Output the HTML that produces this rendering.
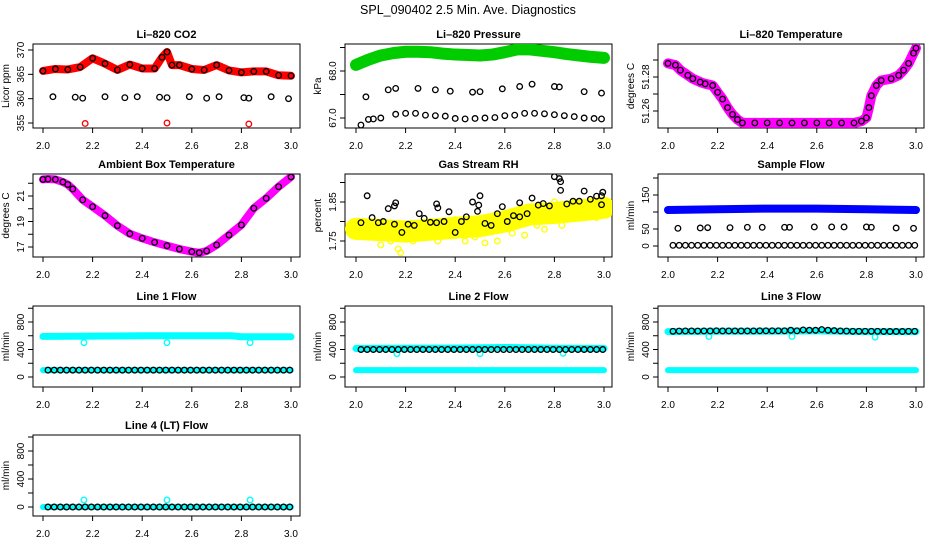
<!DOCTYPE html>
<html><head><meta charset="utf-8"><style>
html,body{margin:0;padding:0;background:#fff;}
svg{display:block;font-family:"Liberation Sans",Arial,sans-serif;}
</style></head><body>
<svg id="c" width="936" height="540" viewBox="0 0 936 540" xmlns="http://www.w3.org/2000/svg">
<rect width="936" height="540" fill="#fff"/>
<text x="468" y="14" text-anchor="middle" font-size="12.5">SPL_090402  2.5 Min. Ave. Diagnostics</text>
</svg>
<script>
// ---- shared data ----
const xTicks=[2.0,2.2,2.4,2.6,2.8,3.0];
const xTickLabels=["2.0","2.2","2.4","2.6","2.8","3.0"];
const gridX=[2.02,2.045,2.07,2.095,2.12,2.145,2.17,2.195,2.22,2.245,2.27,2.295,2.32,2.345,2.37,2.395,2.42,2.445,2.47,2.495,2.52,2.545,2.57,2.595,2.62,2.645,2.67,2.695,2.72,2.745,2.77,2.795,2.82,2.845,2.87,2.895,2.92,2.945,2.97,2.995];
// CO2
const co2X=[2.0,2.05,2.1,2.15,2.2,2.25,2.3,2.35,2.4,2.45,2.48,2.5,2.52,2.55,2.6,2.65,2.7,2.75,2.8,2.85,2.9,2.95,3.0];
const co2Y=[365.7,366.1,366.0,366.5,368.3,367.2,365.9,367.0,366.2,366.2,368.5,369.6,366.9,366.9,366.1,365.9,366.9,365.8,365.4,365.6,365.6,364.8,364.7];
const co2MidX=[2.04,2.13,2.16,2.25,2.33,2.38,2.47,2.5,2.59,2.66,2.71,2.81,2.83,2.92,2.99];
const co2MidY=[360.4,360.3,360.1,360.4,360.2,360.4,360.3,360.2,360.4,360.1,360.4,360.2,360.1,360.4,360.0];
const co2OutX=[2.17,2.5,2.83];
const co2OutY=[354.9,355.0,354.8];
// Pressure
const presX=[2.0,2.05,2.1,2.15,2.2,2.25,2.3,2.35,2.4,2.45,2.5,2.55,2.6,2.65,2.7,2.75,2.8,2.85,2.9,2.95,3.0];
const presY=[68.13,68.24,68.33,68.38,68.41,68.41,68.40,68.37,68.35,68.34,68.33,68.35,68.40,68.46,68.46,68.43,68.40,68.36,68.33,68.30,68.28];
const presMidX=[2.04,2.13,2.16,2.25,2.32,2.38,2.47,2.5,2.59,2.66,2.71,2.8,2.82,2.92,2.99];
const presMidY=[67.45,67.6,67.63,67.63,67.6,67.57,67.55,67.56,67.62,67.67,67.72,67.67,67.66,67.56,67.53];
const presLowX=[2.02,2.05,2.07,2.1,2.16,2.2,2.24,2.28,2.32,2.36,2.4,2.44,2.48,2.52,2.56,2.6,2.64,2.68,2.72,2.76,2.8,2.84,2.88,2.92,2.96,2.99];
const presLowY=[66.85,66.97,66.98,67.0,67.08,67.1,67.1,67.06,67.05,67.04,66.99,66.98,66.99,67.0,67.01,67.05,67.06,67.1,67.1,67.09,67.07,67.05,67.03,67.0,66.99,66.98];
// Li-820 temperature
const tempX=[2.0,2.03,2.05,2.08,2.1,2.13,2.15,2.18,2.2,2.22,2.24,2.26,2.28,2.3,2.35,2.4,2.45,2.5,2.55,2.6,2.65,2.7,2.75,2.78,2.8,2.81,2.82,2.84,2.86,2.9,2.93,2.95,2.97,2.99,3.0];
const tempY=[51.288,51.287,51.284,51.281,51.279,51.277,51.276,51.275,51.271,51.267,51.262,51.258,51.255,51.253,51.253,51.253,51.253,51.253,51.253,51.253,51.253,51.253,51.253,51.254,51.256,51.262,51.269,51.275,51.278,51.279,51.281,51.284,51.288,51.294,51.297];
// Ambient box temperature
const ambX=[2.0,2.02,2.05,2.08,2.1,2.12,2.16,2.2,2.25,2.3,2.35,2.4,2.45,2.5,2.55,2.6,2.63,2.66,2.7,2.75,2.8,2.85,2.9,2.95,3.0];
const ambY=[22.3,22.33,22.3,22.1,21.9,21.55,20.7,20.16,19.46,18.67,18.04,17.68,17.37,17.1,16.84,16.63,16.55,16.69,17.16,17.94,18.73,20.04,20.82,21.73,22.5];
// Gas stream RH
const rhBandX=[2.0,2.1,2.2,2.3,2.4,2.5,2.6,2.7,2.8,2.9,3.0];
const rhBandY=[1.781,1.778,1.774,1.779,1.784,1.788,1.800,1.818,1.822,1.828,1.835];
const rhYelX=[2.0,2.01,2.03,2.05,2.06,2.1,2.12,2.14,2.17,2.18,2.19,2.23,2.26,2.3,2.33,2.38,2.4,2.44,2.48,2.5,2.52,2.53,2.57,2.6,2.63,2.66,2.68,2.7,2.73,2.76,2.8,2.83,2.86,2.88,2.92,2.95,2.97,3.0];
const rhYelY=[1.80,1.77,1.80,1.77,1.80,1.74,1.76,1.75,1.73,1.72,1.76,1.75,1.76,1.80,1.75,1.78,1.805,1.75,1.76,1.77,1.745,1.80,1.75,1.795,1.77,1.80,1.765,1.82,1.79,1.78,1.85,1.79,1.82,1.85,1.81,1.815,1.81,1.84];
const rhBlkX=[2.02,2.045,2.065,2.09,2.11,2.13,2.155,2.16,2.155,2.185,2.21,2.235,2.255,2.275,2.3,2.325,2.325,2.33,2.355,2.375,2.4,2.425,2.445,2.47,2.49,2.495,2.5,2.52,2.545,2.57,2.59,2.61,2.635,2.66,2.66,2.69,2.71,2.735,2.755,2.78,2.8,2.82,2.825,2.825,2.85,2.875,2.9,2.92,2.945,2.97,2.99,2.99,2.995];
const rhBlkY=[1.797,1.866,1.81,1.797,1.80,1.833,1.84,1.848,1.793,1.772,1.793,1.79,1.82,1.808,1.798,1.797,1.845,1.835,1.80,1.825,1.772,1.80,1.812,1.85,1.826,1.842,1.866,1.795,1.79,1.82,1.838,1.80,1.815,1.812,1.848,1.82,1.86,1.842,1.846,1.84,1.915,1.91,1.902,1.88,1.845,1.852,1.852,1.878,1.857,1.865,1.866,1.843,1.875];
// Sample flow
const sfBandX=[2.0,2.2,2.4,2.6,2.8,3.0];
const sfBandY=[106,108,110,110,108,106];
const sfMidX=[2.04,2.13,2.16,2.25,2.32,2.38,2.47,2.49,2.59,2.66,2.71,2.8,2.82,2.92,2.99];
const sfMidY=[52,53,54,54,55,55,55,55,56,56,56,56,55,53,52];
const sfZeroY=gridX.map(()=>2);
// Line flows
const l1HighX=[2.0,2.2,2.4,2.6,2.76,2.8,3.0];
const l1HighY=[590,595,600,600,600,585,585];
const l1DipX=[2.165,2.5,2.835]; const l1DipY=[500,500,500];
const l1LowY=gridX.map(()=>100);
const l2HighX=[2.0,2.2,2.4,2.6,2.8,3.0];
const l2HighY=[415,418,420,430,418,415];
const l2DipX=[2.165,2.5,2.835]; const l2DipY=[340,340,345];
const l2BlkY=gridX.map(()=>400);
const l3HighX=[2.0,2.2,2.4,2.6,2.8,3.0];
const l3HighY=[660,665,665,670,660,660];
const l3DipX=[2.165,2.5,2.835]; const l3DipY=[590,590,580];
const l3BlkY=[665,668,670,670,668,670,670,672,670,670,670,670,670,670,672,672,672,672,672,680,672,685,680,680,690,680,675,670,668,665,665,665,665,665,662,662,662,662,665,665];
const lowBandX=[2.0,3.0]; const lowBandY=[100,100];
const l4Y=gridX.map(()=>0);
const l4OutX=[2.165,2.5,2.835]; const l4OutY=[100,100,100];

// ---- drawing ----
const NS="http://www.w3.org/2000/svg";
const svg=document.getElementById('c');
function el(tag,attrs,parent){const e=document.createElementNS(NS,tag);for(const k in attrs)e.setAttribute(k,attrs[k]);(parent||svg).appendChild(e);return e;}
const cols=[{l:33,r:300,x0:43},{l:345,r:612,x0:356},{l:658,r:924,x0:668}];
const rows=[{t:44,b:128},{t:174,b:257},{t:306,b:387},{t:435,b:516}];
const XS=248;
function panel(c,r,name,title,ylab,v1,p1,v2,p2,ticks,labels){
  const C=cols[c],R=rows[r];
  const g=el('g',{});
  
  
  const sx=v=>C.x0+(v-2)*XS;
  const sy=v=>p1+(v-v1)*(p2-p1)/(v2-v1);
  const box=el('rect',{x:C.l,y:R.t,width:C.r-C.l,height:R.b-R.t,fill:'none',stroke:'#000','stroke-width':1},g);
  
  
  const t=el('text',{x:(C.l+C.r)/2,y:R.t-6,'text-anchor':'middle','font-size':11,'font-weight':'bold'},g);
  t.textContent=title;
  
  
  xTicks.forEach((v,i)=>{
    const x=sx(v);
    el('line',{x1:x,x2:x,y1:R.b,y2:R.b+5,stroke:'#000'},g);
    const tl=el('text',{x:x,y:R.b+21,'text-anchor':'middle','font-size':10},g);
    tl.textContent=xTickLabels[i];
    
    
  });
  ticks.forEach((v,i)=>{
    const y=sy(v);
    el('line',{x1:C.l-5,x2:C.l,y1:y,y2:y,stroke:'#000'},g);
    if(labels[i]){
      const tl=el('text',{x:C.l-9,y:y,'text-anchor':'middle','font-size':10,transform:`rotate(-90 ${C.l-9} ${y})`},g);
      tl.textContent=labels[i];
      
      
    }
  });
  const yl=el('text',{x:C.l-24,y:(R.t+R.b)/2,'text-anchor':'middle','font-size':10,transform:`rotate(-90 ${C.l-24} ${(R.t+R.b)/2})`},g);
  yl.textContent=ylab;
  
  
  const clip='clip'+c+r;
  const cp=el('clipPath',{id:clip},g);el('rect',{x:C.l,y:R.t,width:C.r-C.l,height:R.b-R.t},cp);
  const plot=el('g',{'clip-path':`url(#${clip})`},g);
  return {
    band(xs,ys,color,w,nm){
      const p=el('polyline',{points:xs.map((x,i)=>sx(x)+','+sy(ys[i])).join(' '),fill:'none',stroke:color,'stroke-width':w,'stroke-linecap':'round','stroke-linejoin':'round'},plot);
      
      
    },
    pts(xs,ys,color,nm,rr,sw){
      xs.forEach((x,i)=>{
        const ci=el('circle',{cx:sx(x),cy:sy(ys[i]),r:rr||2.8,fill:'none',stroke:color,'stroke-width':sw||1.3},plot);
        
        
      });
    }
  };
}
const CY='#00ffff',BK='#000';
let p;
p=panel(0,0,'co2','Li\u2013820 CO2','Licor ppm',370,50,355,123,[355,360,365,370],['355','360','365','370']);
p.band(co2X,co2Y,'#ff0000',8,'co2-band');p.pts(co2X,co2Y,BK,'co2-point');p.pts(co2MidX,co2MidY,BK,'co2-point');p.pts(co2OutX,co2OutY,'#ff0000','co2-outlier');
p=panel(1,0,'pressure','Li\u2013820 Pressure','kPa',68,71,67,118,[67,67.5,68,68.5],['67.0','','68.0','']);
p.band(presX,presY,'#00cc00',12,'pressure-band');p.pts(presMidX,presMidY,BK,'pressure-point');p.pts(presLowX,presLowY,BK,'pressure-point');
p=panel(2,0,'li820-temp','Li\u2013820 Temperature','degrees C',51.28,77,51.26,111,[51.26,51.27,51.28,51.29],['51.26','','51.28','']);
p.band(tempX,tempY,'#ff00ff',10,'li820-temp-band');p.pts(tempX,tempY,BK,'li820-temp-point');
p=panel(0,1,'ambient','Ambient Box Temperature','degrees C',21,196,17,247,[17,18,19,20,21,22],['17','','19','','21','']);
p.band(ambX,ambY,'#ff00ff',8,'ambient-band');p.pts(ambX,ambY,BK,'ambient-point');
p=panel(1,1,'rh','Gas Stream RH','percent',1.85,202,1.75,241,[1.75,1.8,1.85,1.9],['1.75','','1.85','']);
p.band(rhBandX,rhBandY,'#ffff00',22,'rh-band');p.pts(rhYelX,rhYelY,'#ffff00','rh-yellow-point');p.pts(rhBlkX,rhBlkY,BK,'rh-point');
p=panel(2,1,'sample-flow','Sample Flow','ml/min',0,246,150,195,[0,50,100,150,200],['0','50','','150','']);
p.band(sfBandX,sfBandY,'#0000ff',8,'sample-flow-band');p.pts(sfMidX,sfMidY,BK,'sample-flow-point');p.pts(gridX,sfZeroY,BK,'sample-flow-point');
p=panel(0,2,'line1','Line 1 Flow','ml/min',0,377,800,322,[0,200,400,600,800,1000],['0','','400','','800','']);
p.band(l1HighX,l1HighY,CY,7,'line1-high-band');p.pts(l1DipX,l1DipY,CY,'line1-dip');p.band(lowBandX,lowBandY,CY,6,'line1-low-band');p.pts(gridX,l1LowY,BK,'line1-point');
p=panel(1,2,'line2','Line 2 Flow','ml/min',0,377,800,322,[0,200,400,600,800,1000],['0','','400','','800','']);
p.band(l2HighX,l2HighY,CY,7,'line2-high-band');p.pts(l2DipX,l2DipY,CY,'line2-dip');p.band(lowBandX,lowBandY,CY,6,'line2-low-band');p.pts(gridX,l2BlkY,BK,'line2-point');
p=panel(2,2,'line3','Line 3 Flow','ml/min',0,377,800,322,[0,200,400,600,800,1000],['0','','400','','800','']);
p.band(l3HighX,l3HighY,CY,7,'line3-high-band');p.pts(l3DipX,l3DipY,CY,'line3-dip');p.band(lowBandX,lowBandY,CY,6,'line3-low-band');p.pts(gridX,l3BlkY,BK,'line3-point');
p=panel(0,3,'line4','Line 4 (LT) Flow','ml/min',0,507,800,451,[0,200,400,600,800,1000],['0','','400','','800','']);
p.band(lowBandX,[0,0],CY,6,'line4-band');p.pts(gridX,l4Y,BK,'line4-point');p.pts(l4OutX,l4OutY,CY,'line4-outlier');
</script>
</body></html>
